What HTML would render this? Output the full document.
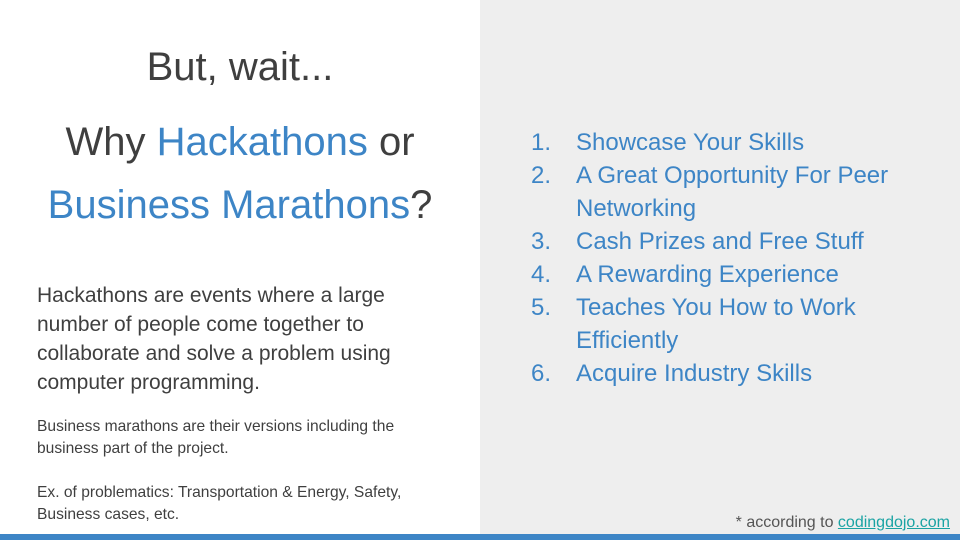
<!DOCTYPE html>
<html><head><meta charset="utf-8"><style>
body{margin:0;width:960px;height:540px;overflow:hidden;background:#fff;font-family:"Liberation Sans",sans-serif;position:relative}
.a{position:absolute;white-space:nowrap}
.b{color:#3d85c6}
.d{color:#3f3f3f}
.li{position:absolute;font-size:24px;color:#3d85c6;line-height:33px;white-space:nowrap;width:400px}
.li .n{position:absolute;left:0}
.li .t{position:absolute;left:45px;white-space:nowrap}
</style></head><body>
<div style="position:absolute;left:480px;top:0;width:480px;height:534px;background:#eeeeee"></div>
<div style="position:absolute;left:0;top:534px;width:960px;height:6px;background:#3d85c6"></div>

<div class="a d" style="left:0;width:480px;text-align:center;top:42px;font-size:40px;line-height:50px">But, wait...</div>
<div class="a d" style="left:0;width:480px;text-align:center;top:117px;font-size:40px;line-height:50px">Why <span class="b">Hackathons</span> or</div>
<div class="a d" style="left:0;width:480px;text-align:center;top:180px;font-size:40px;line-height:50px"><span class="b">Business Marathons</span>?</div>

<div class="a d" style="left:37px;top:281px;font-size:21px;line-height:29px;color:#3f3f3f">Hackathons are events where a large<br>number of people come together to<br>collaborate and solve a problem using<br>computer programming.</div>
<div class="a d" style="left:37px;top:416px;font-size:15.6px;line-height:22px">Business marathons are their versions including the<br>business part of the project.</div>
<div class="a d" style="left:37px;top:482px;font-size:15.6px;line-height:22px">Ex. of problematics: Transportation &amp; Energy, Safety,<br>Business cases, etc.</div>

<div class="li" style="left:531px;top:126px"><span class="n">1.</span><span class="t">Showcase Your Skills</span></div>
<div class="li" style="left:531px;top:159px"><span class="n">2.</span><span class="t">A Great Opportunity For Peer<br>Networking</span></div>
<div class="li" style="left:531px;top:225px"><span class="n">3.</span><span class="t">Cash Prizes and Free Stuff</span></div>
<div class="li" style="left:531px;top:258px"><span class="n">4.</span><span class="t">A Rewarding Experience</span></div>
<div class="li" style="left:531px;top:291px"><span class="n">5.</span><span class="t">Teaches You How to Work<br>Efficiently</span></div>
<div class="li" style="left:531px;top:357px"><span class="n">6.</span><span class="t">Acquire Industry Skills</span></div>

<div class="a" style="right:10px;top:513px;font-size:16px;line-height:19px;color:#555">* according to <span style="color:#1aa3a3;text-decoration:underline">codingdojo.com</span></div>
</body></html>
